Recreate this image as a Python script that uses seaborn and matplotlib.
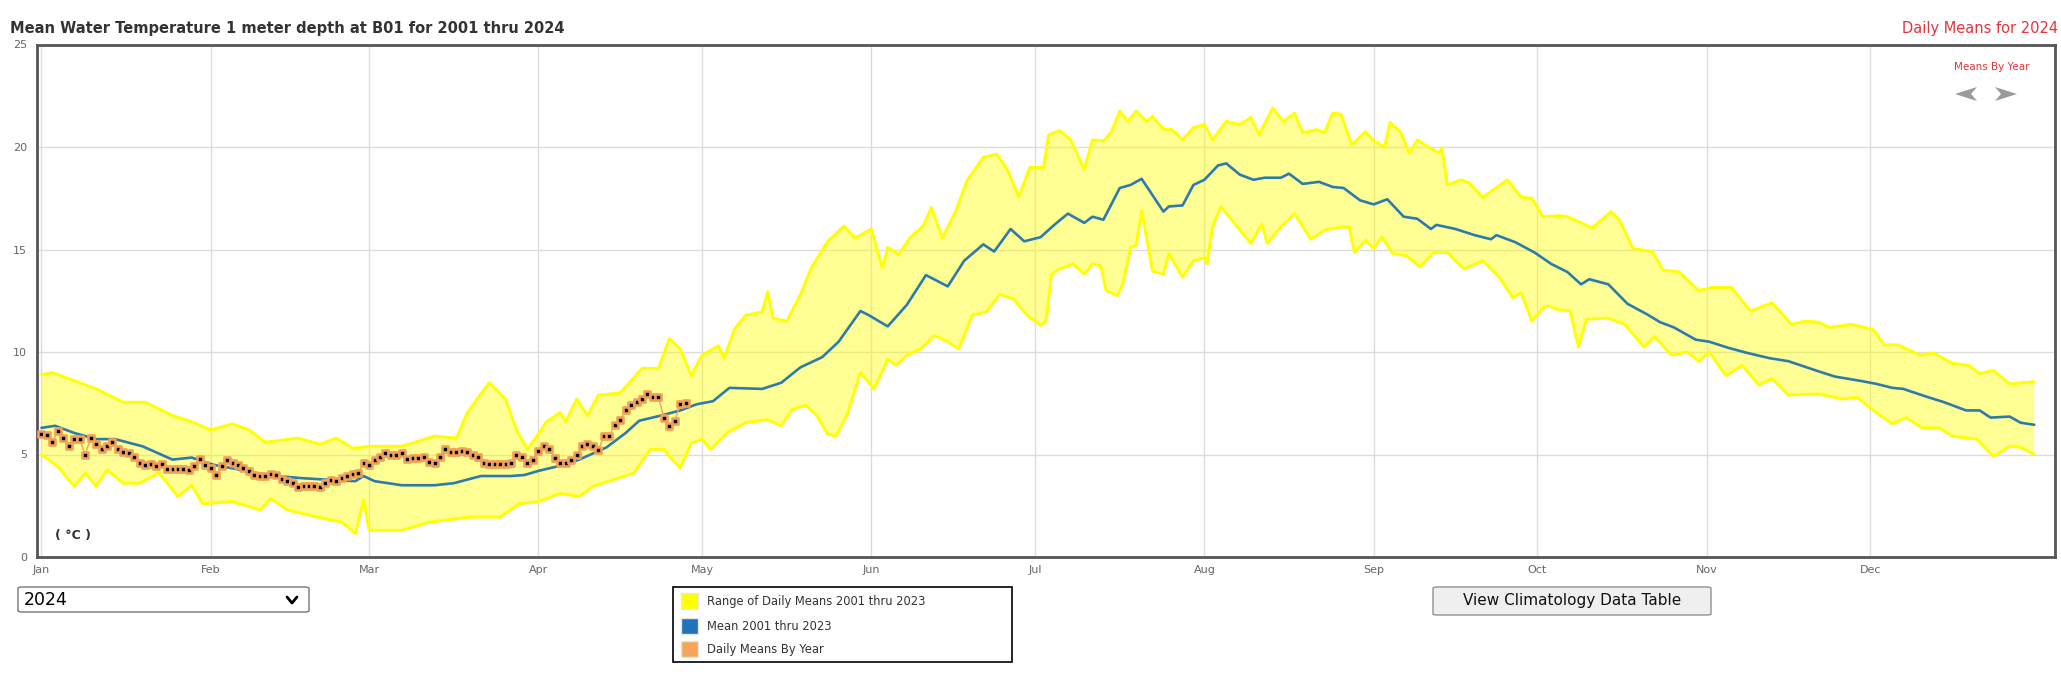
import numpy as np
import pandas as pd
import matplotlib
matplotlib.use('Agg')
import matplotlib.pyplot as plt
import seaborn as sns
from matplotlib.patches import FancyBboxPatch, Rectangle, Polygon
from matplotlib.lines import Line2D

#-----------Chart data (day of year, 0 = Jan 1, 2024 is a leap year)-----------
months = ['Jan', 'Feb', 'Mar', 'Apr', 'May', 'Jun', 'Jul', 'Aug', 'Sep', 'Oct', 'Nov', 'Dec']
month_start = [0, 31, 60, 91, 121, 152, 182, 213, 244, 274, 305, 335]
y_ticks = [0, 5, 10, 15, 20, 25]

# upper edge of the 2001-2023 range of daily means
range_upper = [(0, 8.9), (2, 9.0), (6, 8.6), (10, 8.2), (15, 7.55), (19, 7.55), (24, 6.9), (27, 6.65),
               (31, 6.2), (35, 6.5), (38, 6.2), (41, 5.6), (47, 5.8), (51, 5.5), (54, 5.8), (57, 5.3),
               (60, 5.4), (66, 5.4), (72, 5.9), (76, 5.8), (78, 7.05), (82, 8.5), (85, 7.7), (87, 6.2),
               (89, 5.25), (91, 6.0), (92.5, 6.6), (95, 7.05), (96, 6.6), (98, 7.7), (100, 6.9),
               (102, 7.9), (106, 8.0), (110, 9.2), (113, 9.2), (115, 10.65), (117, 10.15), (119, 8.85),
               (121, 9.85), (124, 10.3), (125, 9.7), (127, 11.15), (129, 11.8), (132, 11.95),
               (133, 12.95), (134, 11.65), (136.5, 11.5), (139, 12.8), (141, 14.1), (144, 15.4),
               (147, 16.15), (149, 15.55), (152, 16.0), (154, 14.1), (155, 15.1), (157, 14.75),
               (159, 15.55), (161.5, 16.15), (163, 17.05), (165, 15.55), (167.5, 16.9), (169.5, 18.35),
               (172.5, 19.5), (175, 19.65), (177, 18.85), (179, 17.55), (181, 19.0), (183.5, 19.0),
               (184.5, 20.6), (186.5, 20.8), (188.5, 20.35), (191, 18.9), (192.5, 20.35), (194.5, 20.3),
               (196, 20.75), (197.5, 21.75), (199, 21.25), (200.5, 21.75), (202.5, 21.25), (203.5, 21.5),
               (205.5, 20.85), (207, 20.85), (209, 20.35), (211, 20.95), (213, 21.1), (214.5, 20.35),
               (217, 21.25), (219.5, 21.1), (221.5, 21.45), (223, 20.6), (225.5, 21.9), (227.5, 21.25),
               (229.5, 21.65), (231, 20.7), (233.5, 20.85), (235, 20.7), (236.5, 21.65), (238, 21.6),
               (240, 20.1), (242.5, 20.75), (244, 20.3), (246, 20.0), (247, 21.2), (249, 20.7),
               (250.5, 19.7), (252, 20.35), (254, 20.0), (256, 19.7), (256.5, 19.95), (257.5, 18.15),
               (260, 18.4), (261.5, 18.25), (264, 17.55), (268.5, 18.4), (271, 17.55), (273, 17.5),
               (275, 16.6), (278, 16.65), (279.5, 16.6), (282, 16.3), (284, 16.05), (287.5, 16.85),
               (289, 16.45), (291.5, 15.05), (295, 14.9), (297, 14.0), (300, 13.9), (303.5, 13.0),
               (306, 13.15), (309.5, 13.15), (313, 12.0), (317, 12.4), (320.5, 11.35), (323, 11.5),
               (325.5, 11.45), (327.5, 11.2), (331.5, 11.35), (335.5, 11.1), (337.5, 10.35), (340, 10.35),
               (344, 9.85), (346.5, 9.95), (350, 9.45), (353, 9.35), (355, 8.95), (357.5, 9.1),
               (360.5, 8.45), (365, 8.55)]

# lower edge of the 2001-2023 range of daily means
range_lower = [(0, 5.0), (3, 4.4), (6, 3.45), (8, 4.1), (10, 3.45), (12, 4.25), (15, 3.6), (18, 3.6),
               (21.5, 4.1), (25, 2.95), (27.5, 3.5), (29.5, 2.6), (35, 2.7), (40, 2.3), (42, 2.85),
               (45, 2.3), (50.5, 1.95), (55, 1.7), (57.5, 1.15), (59, 2.8), (60, 1.3), (66, 1.3),
               (71, 1.7), (78.5, 1.95), (84, 1.95), (87.5, 2.6), (91, 2.7), (95, 3.1), (98.5, 2.95),
               (101, 3.45), (104.5, 3.75), (108.5, 4.1), (111.5, 5.25), (114, 5.25), (115.5, 4.75),
               (117, 4.35), (119, 5.55), (121, 5.75), (122.5, 5.25), (125.5, 6.05), (129, 6.55),
               (133, 6.7), (135.5, 6.4), (137.5, 7.2), (140, 7.4), (142, 6.9), (144, 6.0), (145.5, 5.9),
               (147.5, 6.9), (150, 9.0), (152.5, 8.2), (155, 9.65), (156.5, 9.35), (158.5, 9.85),
               (161, 10.15), (163.5, 10.8), (166, 10.5), (168, 10.15), (170.5, 11.8), (173, 11.95),
               (175.5, 12.8), (178, 12.6), (180.5, 11.8), (183, 11.3), (184, 11.5), (185, 13.8),
               (186.5, 14.05), (189, 14.3), (191, 13.8), (192.5, 14.3), (194, 14.2), (195, 13.0),
               (197, 12.75), (198, 13.25), (199.5, 15.1), (200.5, 15.2), (201.5, 16.9), (202.5, 15.45),
               (203.5, 13.95), (205.5, 13.8), (206.5, 14.8), (209, 13.65), (211, 14.45), (213, 14.6),
               (213.5, 14.3), (214.5, 16.1), (216, 17.1), (217.5, 16.6), (219.5, 15.95), (221.5, 15.3),
               (223.5, 16.25), (224.5, 15.3), (227, 16.1), (229.5, 16.75), (232.5, 15.5), (235, 15.95),
               (238, 16.1), (239.5, 16.1), (240.5, 14.85), (242.5, 15.45), (244, 15.05), (245.5, 15.6),
               (247.5, 14.8), (250, 14.7), (252.5, 14.15), (255, 14.85), (257.5, 14.85), (260.5, 14.05),
               (264, 14.45), (267, 13.65), (269.5, 12.65), (271, 12.9), (273, 11.5), (275, 12.15),
               (276, 12.25), (278, 12.05), (280, 12.0), (281.5, 10.25), (283, 11.6), (287, 11.65),
               (290, 11.35), (293.5, 10.25), (295.5, 10.75), (298.5, 9.85), (301.5, 10.0), (303.5, 9.55),
               (305.5, 10.0), (308.5, 8.85), (311.5, 9.35), (314.5, 8.4), (317, 8.7), (320, 7.9),
               (325.5, 7.95), (330, 7.7), (332.5, 7.8), (335.5, 7.15), (339, 6.5), (341.5, 6.8),
               (344.5, 6.3), (347.5, 6.3), (350, 5.9), (354.5, 5.75), (357.5, 4.9), (360.5, 5.4),
               (362.5, 5.35), (365, 5.0)]

# mean of daily means 2001-2023
mean_2001_2023 = [(0, 6.3), (2.5, 6.4), (6, 6.05), (10, 5.75), (13.5, 5.75), (18.5, 5.4), (24, 4.75),
                  (27.5, 4.85), (31.5, 4.5), (36.5, 4.25), (41, 4.0), (47.5, 3.85), (53.5, 3.75),
                  (57.5, 3.7), (59, 3.95), (61, 3.7), (66, 3.5), (72, 3.5), (75.5, 3.6), (80.5, 3.95),
                  (86, 3.95), (88.5, 4.0), (91, 4.2), (95, 4.45), (98.5, 4.75), (103.5, 5.35), (107, 6.05),
                  (109.5, 6.65), (113.5, 6.9), (117, 7.15), (120, 7.45), (123, 7.6), (126, 8.25),
                  (132, 8.2), (135.5, 8.5), (139, 9.25), (143, 9.75), (146, 10.5), (150, 12.0),
                  (151.5, 11.8), (155, 11.25), (158.5, 12.3), (162, 13.75), (166, 13.2), (169, 14.45),
                  (172.5, 15.25), (174.5, 14.9), (177.5, 16.0), (180, 15.4), (183, 15.6), (185.5, 16.2),
                  (188, 16.75), (191, 16.3), (192.5, 16.6), (194.5, 16.45), (197.5, 18.0), (199.5, 18.15),
                  (201.5, 18.45), (205.5, 16.85), (206.5, 17.1), (209, 17.15), (211, 18.15), (213, 18.4),
                  (215.5, 19.1), (217, 19.2), (219.5, 18.65), (222, 18.4), (224, 18.5), (227, 18.5),
                  (228.5, 18.7), (231, 18.2), (234, 18.3), (236.5, 18.05), (238.5, 18.0), (241.5, 17.4),
                  (244, 17.2), (246.5, 17.45), (249.5, 16.6), (252, 16.5), (254.5, 16.0), (255.5, 16.2),
                  (259, 16.0), (262.5, 15.7), (265.5, 15.5), (266.5, 15.7), (270, 15.35), (273.5, 14.85),
                  (276.5, 14.3), (278, 14.1), (279.5, 13.9), (282, 13.3), (283.5, 13.55), (287, 13.3),
                  (290.5, 12.35), (294, 11.85), (296.5, 11.45), (299, 11.2), (303, 10.6), (305.5, 10.5),
                  (309, 10.2), (312.5, 9.95), (316.5, 9.7), (320, 9.55), (325, 9.1), (328.5, 8.8),
                  (333, 8.6), (336, 8.45), (339, 8.25), (341, 8.2), (345.5, 7.8), (348.5, 7.55),
                  (352.5, 7.15), (355, 7.15), (357, 6.8), (360.5, 6.85), (362.5, 6.55), (365, 6.45)]

# daily means for 2024, one value per day from Jan 1
daily_2024 = [6.0, 5.95, 5.6, 6.15, 5.8, 5.4, 5.75, 5.75, 5.0, 5.8,
              5.5, 5.25, 5.4, 5.6, 5.25, 5.1, 5.05, 4.9, 4.6, 4.5,
              4.55, 4.45, 4.55, 4.3, 4.3, 4.3, 4.3, 4.25, 4.45, 4.8,
              4.5, 4.35, 4.0, 4.45, 4.75, 4.6, 4.5, 4.35, 4.2, 4.0,
              3.95, 3.95, 4.05, 4.0, 3.8, 3.7, 3.6, 3.4, 3.45, 3.45,
              3.45, 3.4, 3.6, 3.75, 3.7, 3.85, 3.95, 4.05, 4.1, 4.6,
              4.5, 4.75, 4.9, 5.05, 5.0, 5.0, 5.05, 4.8, 4.85, 4.85,
              4.9, 4.65, 4.6, 4.9, 5.25, 5.1, 5.1, 5.15, 5.1, 5.0,
              4.9, 4.6, 4.55, 4.55, 4.55, 4.55, 4.6, 5.0, 4.9, 4.6,
              4.75, 5.15, 5.4, 5.25, 4.85, 4.6, 4.6, 4.75, 5.0, 5.4,
              5.5, 5.4, 5.2, 5.9, 5.9, 6.45, 6.7, 7.15, 7.4, 7.55,
              7.7, 7.95, 7.8, 7.8, 6.8, 6.4, 6.65, 7.45, 7.5]

upper = pd.DataFrame(range_upper, columns=['day', 'temp'])
lower = pd.DataFrame(range_lower, columns=['day', 'temp'])
mean = pd.DataFrame(mean_2001_2023, columns=['day', 'temp'])
y2024 = pd.DataFrame({'day': np.arange(len(daily_2024)), 'temp': daily_2024})

#-----------Figure-----------
sns.set_theme(style='white')
plt.rcParams['font.family'] = ['DejaVu Sans']

W, H = 2061, 696
fig = plt.figure(figsize=(W / 100, H / 100), dpi=100)


def fx(px):
    return px / W


def fy(py):
    return 1 - py / H


ax = fig.add_axes([fx(37), fy(557), fx(2055) - fx(37), fy(44.5) - fy(557)])

band_x = np.r_[upper['day'].values, lower['day'].values[::-1]]
band_y = np.r_[upper['temp'].values, lower['temp'].values[::-1]]
ax.fill(band_x, band_y, color='#ffff00', alpha=0.42, lw=0, zorder=1)
sns.lineplot(data=upper, x='day', y='temp', ax=ax, color='#ffff00', linewidth=2.1, zorder=2)
sns.lineplot(data=lower, x='day', y='temp', ax=ax, color='#ffff00', linewidth=2.1, zorder=2)
sns.lineplot(data=mean, x='day', y='temp', ax=ax, color='#2d7aad', linewidth=1.9, zorder=3)
sns.lineplot(data=y2024, x='day', y='temp', ax=ax, color='#f2a15c', linewidth=1.0, zorder=4)
sns.scatterplot(data=y2024, x='day', y='temp', ax=ax, marker='s', s=16, color='black',
                edgecolor='#f2a056', linewidth=1.9, zorder=5)

ax.set_xlim(-0.82, 368.8)
ax.set_ylim(0, 25)
ax.set_xticks(month_start)
ax.set_xticklabels(months)
ax.set_yticks(y_ticks)
ax.set_yticklabels([str(v) for v in y_ticks])
ax.tick_params(axis='both', length=0, labelsize=8, labelcolor='#666666')
ax.tick_params(axis='x', pad=6)
ax.tick_params(axis='y', pad=7)
ax.set_xlabel('')
ax.set_ylabel('')
ax.grid(True, color='#dcdcdc', linewidth=1)
ax.set_axisbelow(True)
for s in ax.spines.values():
    s.set_color('#555555')
    s.set_linewidth(2)

#-----------Texts-----------
fig.text(fx(10), fy(29), 'Mean Water Temperature 1 meter depth at B01 for 2001 thru 2024',
         fontsize=10.5, fontweight='bold', color='#333333', va='center')
fig.text(fx(2058), fy(29), 'Daily Means for 2024', fontsize=10.5, color='#e3343d',
         ha='right', va='center')
fig.text(fx(1992), fy(67), 'Means By Year', fontsize=7.5, color='#e3343d', ha='center', va='center')
fig.text(fx(73), fy(536), '( °C )', fontsize=9, fontweight='bold', color='#333333',
         ha='center', va='center')

# navigation arrows
for cx, d in [(1966, -1), (2006, 1)]:
    pts = [(cx + d * 11, 94), (cx - d * 11, 87), (cx - d * 5, 94), (cx - d * 11, 101)]
    fig.add_artist(Polygon([(fx(a), fy(b)) for a, b in pts], closed=True,
                           transform=fig.transFigure, fc='#9a9a9a', ec='none'))

#-----------Widgets below the chart-----------
# year selector
fig.add_artist(FancyBboxPatch((fx(18), fy(612)), fx(309) - fx(18), fy(587) - fy(612),
                              boxstyle='round,pad=0,rounding_size=0.002', transform=fig.transFigure,
                              fc='white', ec='#767676', lw=1))
fig.text(fx(24), fy(600), '2024', fontsize=12.5, color='black', va='center')
fig.add_artist(Line2D([fx(287), fx(292), fx(297)], [fy(597), fy(603), fy(597)],
                      transform=fig.transFigure, color='black', lw=2))

# legend
fig.add_artist(Rectangle((fx(673), fy(662)), fx(1012) - fx(673), fy(587) - fy(662),
                         transform=fig.transFigure, fc='white', ec='black', lw=1.2))
legend_items = [('#ffff00', 'Range of Daily Means 2001 thru 2023', 601),
                ('#2073b8', 'Mean 2001 thru 2023', 626),
                ('#f5a55a', 'Daily Means By Year', 649)]
for col, label, yc in legend_items:
    fig.add_artist(Rectangle((fx(681), fy(yc + 8)), fx(698) - fx(681), fy(yc - 8) - fy(yc + 8),
                             transform=fig.transFigure, fc=col, ec='#e6e6e6', lw=1))
    fig.text(fx(707), fy(yc), label, fontsize=8.3, color='#333333', va='center')

# button
fig.add_artist(FancyBboxPatch((fx(1433), fy(615)), fx(1711) - fx(1433), fy(587) - fy(615),
                              boxstyle='round,pad=0,rounding_size=0.002', transform=fig.transFigure,
                              fc='#efefef', ec='#8f8f8f', lw=1))
fig.text(fx(1572), fy(601), 'View Climatology Data Table', fontsize=11, color='#111111',
         ha='center', va='center')

fig.savefig('out.png', dpi=100)
